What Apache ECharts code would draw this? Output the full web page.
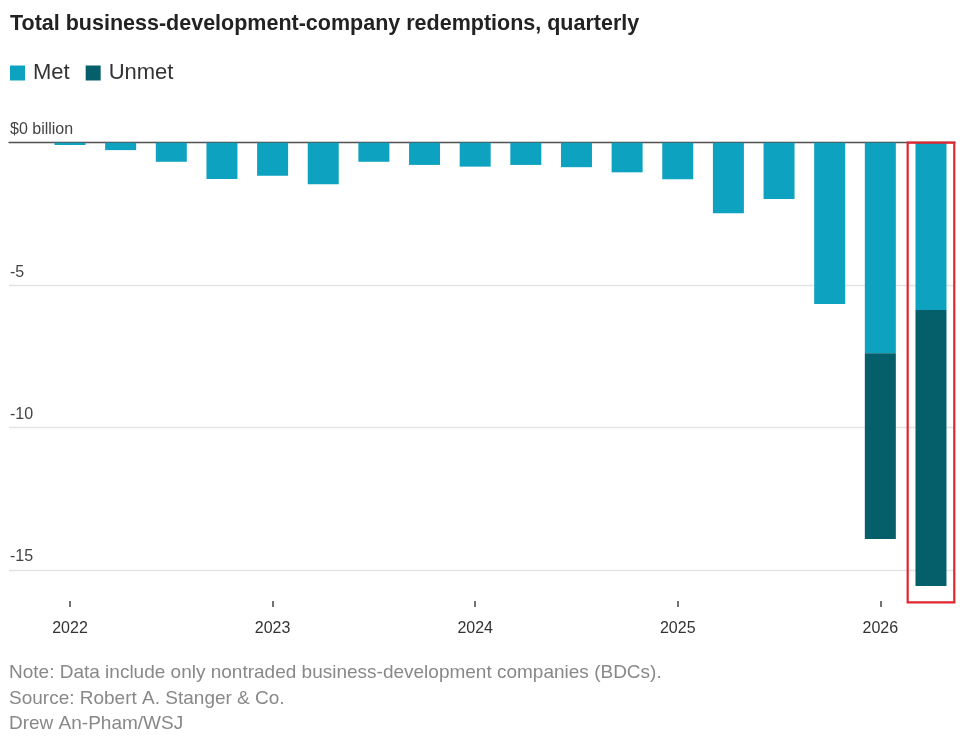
<!DOCTYPE html>
<html>
<head>
<meta charset="utf-8">
<script src="https://cdn.jsdelivr.net/npm/echarts@6/dist/echarts.min.js"></script>
<style>
html,body{margin:0;padding:0;background:#fff;}
#chart{width:960px;height:750px;}
</style>
</head>
<body>
<div id="chart"></div>
<script>
// Data (billions of dollars), quarterly from 2022 Q1 to 2026 Q2
var quarters = ['2022 Q1','2022 Q2','2022 Q3','2022 Q4','2023 Q1','2023 Q2','2023 Q3','2023 Q4',
                '2024 Q1','2024 Q2','2024 Q3','2024 Q4','2025 Q1','2025 Q2','2025 Q3','2025 Q4',
                '2026 Q1','2026 Q2'];
var met   = [-0.08,-0.26,-0.67,-1.27,-1.16,-1.46,-0.67,-0.78,-0.84,-0.78,-0.86,-1.04,-1.28,-2.48,-1.98,-5.66,-7.39,-5.87];
var unmet = [0,0,0,0,0,0,0,0,0,0,0,0,0,0,0,0,-6.52,-9.69];
var yTickLabels = {'0':'$0 billion','-5':'-5','-10':'-10','-15':'-15'};

var FONT = 'Liberation Sans, Arial, sans-serif';
var chart = echarts.init(document.getElementById('chart'));

var gridTop = 142.7, gridBottom = 180;
var option = {
  backgroundColor: '#ffffff',
  animation: false,
  title: [{
    text: 'Total business-development-company redemptions, quarterly',
    left: 5, top: 8,
    textStyle: {fontFamily: FONT, fontSize: 21.5, fontWeight: 'bold', color: '#222'}
  }],
  legend: {
    data: ['Met','Unmet'],
    left: 5, top: 57,
    icon: 'rect', itemWidth: 15, itemHeight: 15, itemGap: 16,
    textStyle: {fontFamily: FONT, fontSize: 22, color: '#333', padding: [0,0,0,3]}
  },
  grid: [
    {left: 9, right: 5, top: gridTop, bottom: gridBottom},
    {left: 44.7, right: 3.7, top: gridTop, bottom: gridBottom}
  ],
  xAxis: [
    {gridIndex: 0, type: 'value', min: 0, max: 1, show: true,
     axisLine: {show: true, onZero: true, lineStyle: {color: '#555', width: 1.3}},
     axisTick: {show: false}, axisLabel: {show: false}, splitLine: {show: false}},
    {gridIndex: 1, type: 'category', data: quarters,
     offset: 31,
     axisLine: {show: false, onZero: false},
     axisTick: {show: true, alignWithLabel: true, length: 6,
                interval: function (i) { return i % 4 === 0; },
                lineStyle: {color: '#444', width: 1.5}},
     axisLabel: {interval: function (i) { return i % 4 === 0; },
                 formatter: function (v) { return v.slice(0,4); },
                 margin: 20, fontFamily: FONT, fontSize: 16, color: '#333'},
     splitLine: {show: false}}
  ],
  yAxis: [
    {gridIndex: 0, type: 'value', min: -15, max: 0, interval: 5,
     axisLine: {show: false}, axisTick: {show: false},
     axisLabel: {inside: true, margin: 1, verticalAlign: 'bottom', padding: [0,0,5,0],
                 fontFamily: FONT, fontSize: 16, color: '#444',
                 formatter: function (v) { return yTickLabels[String(v)]; }},
     splitLine: {show: true, lineStyle: {color: '#e4e4e4', width: 1.3}}},
    {gridIndex: 1, type: 'value', min: -15, max: 0, interval: 5, show: false,
     splitLine: {show: false}}
  ],
  series: [
    {name: 'Met', type: 'bar', stack: 'total', xAxisIndex: 1, yAxisIndex: 1,
     data: met, barWidth: 31, clip: false,
     itemStyle: {color: '#0da2bf'}},
    {name: 'Unmet', type: 'bar', stack: 'total', xAxisIndex: 1, yAxisIndex: 1,
     data: unmet, barWidth: 31, clip: false,
     itemStyle: {color: '#045f6a'}}
  ],
  graphic: [
    {type: 'text', left: 9, top: 663,
     style: {text: 'Note: Data include only nontraded business-development companies (BDCs).',
             fontFamily: FONT, fontSize: 19, fill: '#888'}},
    {type: 'text', left: 9, top: 689,
     style: {text: 'Source: Robert A. Stanger & Co.', fontFamily: FONT, fontSize: 19, fill: '#888'}},
    {type: 'text', left: 9, top: 714,
     style: {text: 'Drew An-Pham/WSJ', fontFamily: FONT, fontSize: 19, fill: '#888'}}
  ]
};
chart.setOption(option);

// Red highlight box around the last quarter, positioned through the axes' scales
var last = quarters.length - 1;
var pTop = chart.convertToPixel({xAxisIndex: 1, yAxisIndex: 1}, [last, 0]);
var pBot = chart.convertToPixel({xAxisIndex: 1, yAxisIndex: 1}, [last, -16.14]);
var halfW = 23.3;
var g = option.graphic.slice();
g.push({type: 'rect', z: 100,
  shape: {x: pTop[0] - halfW, y: pTop[1], width: halfW * 2, height: pBot[1] - pTop[1]},
  style: {fill: 'none', stroke: '#e0262e', lineWidth: 2.2}});
chart.setOption({graphic: g});
</script>
</body>
</html>
